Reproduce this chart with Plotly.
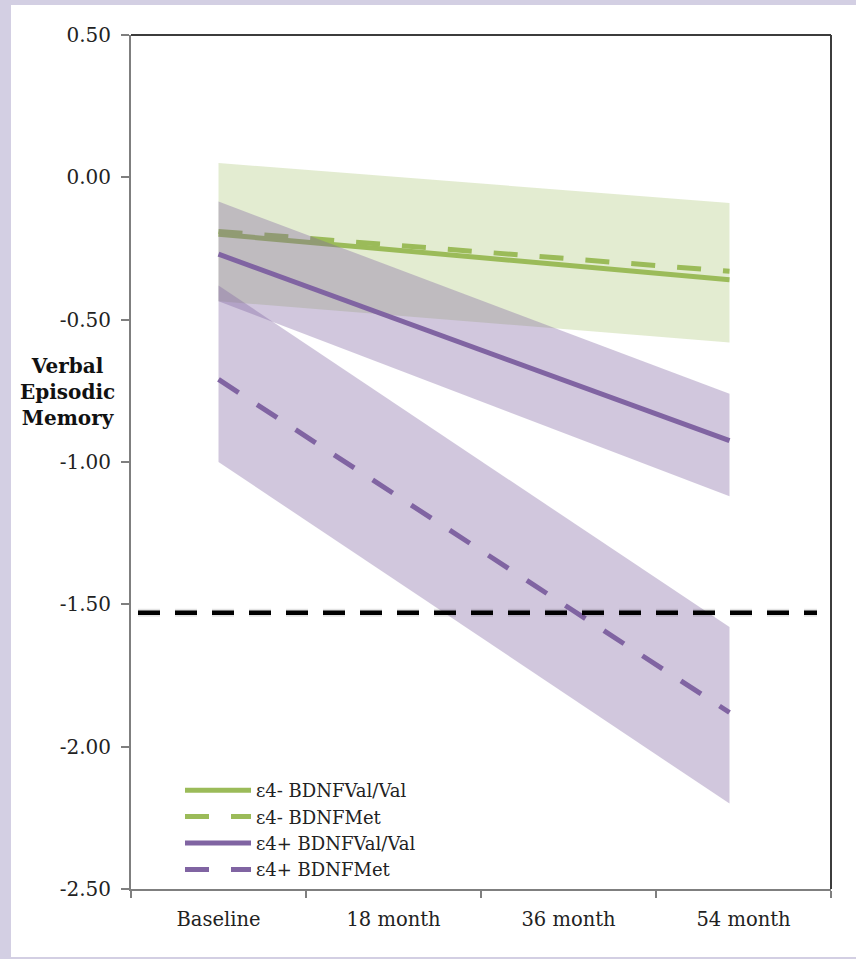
import plotly.graph_objects as go

# ---------------- data ----------------
visit_labels = ["Baseline", "18 month", "36 month", "54 month"]
visit_pos = [0, 1, 2, 3]
# model lines run from Baseline to just before the 54-month mark (category units)
line_x = [0, 2.92]

groups = ["ε4- BDNFVal/Val", "ε4- BDNFMet", "ε4+ BDNFVal/Val", "ε4+ BDNFMet"]
line_start = [-0.20, -0.19, -0.27, -0.71]
line_end = [-0.36, -0.33, -0.925, -1.88]
line_colors = ["#9bbb59", "#9bbb59", "#8064a2", "#8064a2"]
line_dash = ["solid", "24px,22px", "solid", "24px,22px"]

# confidence bands (ε4-, ε4+ Val/Val, ε4+ Met)
band_names = ["ε4- band", "ε4+ BDNFVal/Val band", "ε4+ BDNFMet band"]
band_upper_start = [0.05, -0.085, -0.38]
band_upper_end = [-0.09, -0.76, -1.58]
band_lower_start = [-0.435, -0.435, -1.00]
band_lower_end = [-0.58, -1.12, -2.20]
band_colors = ["rgba(155,187,89,0.28)", "rgba(128,100,162,0.36)", "rgba(128,100,162,0.36)"]

threshold = -1.53
threshold_x = [-0.46, 3.42]

y_tickvals = [0.5, 0.0, -0.5, -1.0, -1.5, -2.0, -2.5]
y_ticktext = ["0.50", "0.00", "-0.50", "-1.00", "-1.50", "-2.00", "-2.50"]
boundary_ticks = [-0.5, 0.5, 1.5, 2.5, 3.5]

FONT = "DejaVu Serif"

fig = go.Figure()

def add_band(i):
    fig.add_trace(go.Scatter(
        x=[line_x[0], line_x[1], line_x[1], line_x[0], line_x[0]],
        y=[band_upper_start[i], band_upper_end[i], band_lower_end[i], band_lower_start[i], band_upper_start[i]],
        fill="toself", fillcolor=band_colors[i], line=dict(width=0),
        mode="lines", showlegend=False, hoverinfo="skip", name=band_names[i]))

def add_line(i):
    fig.add_trace(go.Scatter(
        x=line_x, y=[line_start[i], line_end[i]], mode="lines", name=groups[i],
        line=dict(color=line_colors[i], width=5, dash=line_dash[i])))

add_band(0)
add_line(0)
add_line(1)
add_band(1)
add_band(2)
add_line(2)
add_line(3)

# threshold line with soft shadow
fig.add_trace(go.Scatter(x=threshold_x, y=[threshold, threshold], mode="lines",
                         line=dict(color="rgba(0,0,0,0.10)", width=8, dash="22px,15px"),
                         showlegend=False, hoverinfo="skip"))
fig.add_trace(go.Scatter(x=threshold_x, y=[threshold, threshold], mode="lines",
                         line=dict(color="#000000", width=4.5, dash="22px,15px"),
                         showlegend=False, name="threshold"))

# geometry (px) -> paper helpers
L, R, T, B = 131, 25, 35, 70
W, H = 856, 959
pw, ph = W - L - R, H - T - B
def px_x(p): return (p - L) / pw
def px_y(p): return (H - B - p) / ph

shapes = [
    dict(type="rect", xref="paper", yref="paper", x0=px_x(11), x1=px_x(860),
         y0=px_y(957), y1=px_y(5), fillcolor="white", line=dict(width=0), layer="below"),
    dict(type="line", xref="paper", yref="paper", x0=0, x1=1, y0=1, y1=1,
         line=dict(color="#3c3c3c", width=2)),
    dict(type="line", xref="paper", yref="paper", x0=1, x1=1, y0=0, y1=1,
         line=dict(color="#3c3c3c", width=2)),
]

fig.update_layout(
    width=W, height=H,
    margin=dict(l=L, r=R, t=T, b=B),
    paper_bgcolor="#d3cfe3", plot_bgcolor="white",
    font=dict(family=FONT, size=19, color="#222222"),
    shapes=shapes,
    showlegend=True,
    legend=dict(x=px_x(180), y=px_y(772), xanchor="left", yanchor="top",
                bgcolor="rgba(0,0,0,0)", font=dict(family=FONT, size=18, color="#222222"),
                itemwidth=66, tracegroupgap=0),
    annotations=[dict(text="<b>Verbal<br>Episodic<br>Memory</b>", xref="paper", yref="paper",
                      x=px_x(67), y=px_y(392), xanchor="center", yanchor="middle",
                      showarrow=False, align="center",
                      font=dict(family=FONT, size=20, color="#111111"))],
)

fig.update_xaxes(range=[-0.5, 3.5], tickvals=visit_pos, ticktext=visit_labels, ticks="",
                 showgrid=False, zeroline=False, showline=True, linecolor="#7f7f7f", linewidth=2,
                 ticklabelstandoff=12, tickfont=dict(size=19.5),
                 minor=dict(tickvals=boundary_ticks, ticks="outside", ticklen=7,
                            tickcolor="#7f7f7f", tickwidth=1.5, showgrid=False))
fig.update_yaxes(range=[-2.5, 0.5], tickvals=y_tickvals, ticktext=y_ticktext, ticks="outside",
                 ticklen=8, tickcolor="#7f7f7f", tickwidth=1.5, showgrid=False, zeroline=False,
                 showline=True, linecolor="#7f7f7f", linewidth=2, ticklabelstandoff=6,
                 tickfont=dict(size=20))

fig.write_html("out.html", config={"displayModeBar": False},
               post_script="document.body.style.margin='0';")
